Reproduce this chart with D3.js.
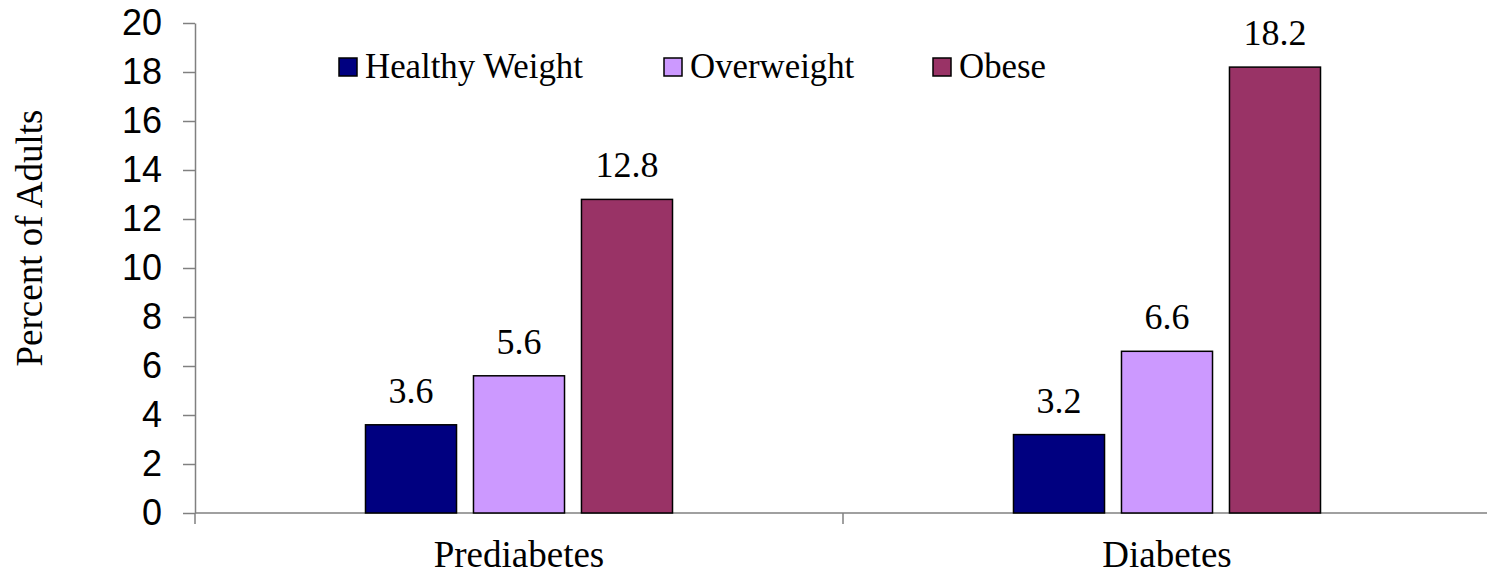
<!DOCTYPE html>
<html>
<head>
<meta charset="utf-8">
<script src="https://cdn.jsdelivr.net/npm/d3@7/dist/d3.min.js"></script>
<style>
  html, body { margin: 0; padding: 0; background: #fff; }
  svg { display: block; }
</style>
</head>
<body>
<svg id="chart" width="1487" height="576"></svg>
<script>
const categories = ["Prediabetes", "Diabetes"];
const series = ["Healthy Weight", "Overweight", "Obese"];
const healthyWeight = [3.6, 3.2];
const overweight = [5.6, 6.6];
const obese = [12.8, 18.2];
const yTicks = [0, 2, 4, 6, 8, 10, 12, 14, 16, 18, 20];
const colors = ["#000080", "#CC99FF", "#993366"];
const yTitle = "Percent of Adults";

(function () {
const values = [healthyWeight, overweight, obese];
const svg = d3.select("#chart");
const serif = "'Liberation Serif', 'Times New Roman', serif";
const sans = "'Liberation Sans', Arial, sans-serif";

const plotLeft = 195, plotRight = 1491, plotTop = 23, plotBottom = 513;
const x0 = d3.scaleBand().domain(categories).range([plotLeft, plotRight]).padding(0);
const bw = x0.bandwidth();
const x1 = d3.scaleBand().domain(series).range([bw * 0.2631, bw * 0.7369]).paddingInner(0.157).paddingOuter(0);
const y = d3.scaleLinear().domain([0, 20]).range([plotBottom, plotTop]);

// Y axis
const yAxis = svg.append("g")
  .attr("transform", `translate(${plotLeft},0)`)
  .call(d3.axisLeft(y).tickValues(yTicks).tickSize(12).tickPadding(21).tickSizeOuter(0));
yAxis.select(".domain").attr("stroke", "#808080").attr("stroke-width", 1.5);
yAxis.selectAll(".tick line").attr("stroke", "#808080").attr("stroke-width", 1.5);
yAxis.selectAll(".tick text").attr("font-family", sans).attr("font-size", 36).attr("fill", "#000");

// X axis line and ticks at band boundaries
const xg = svg.append("g");
xg.append("line").attr("x1", plotLeft).attr("x2", plotRight).attr("y1", y(0)).attr("y2", y(0))
  .attr("stroke", "#808080").attr("stroke-width", 1.5);
const boundaries = categories.map(c => x0(c)).concat([x0(categories[categories.length - 1]) + bw]);
xg.selectAll("line.xt").data(boundaries).enter().append("line")
  .attr("class", "xt")
  .attr("x1", d => d).attr("x2", d => d)
  .attr("y1", y(0)).attr("y2", y(0) + 11)
  .attr("stroke", "#808080").attr("stroke-width", 1.5);
xg.selectAll("text").data(categories).enter().append("text")
  .attr("x", d => x0(d) + bw / 2)
  .attr("y", 567)
  .attr("text-anchor", "middle")
  .attr("font-family", serif).attr("font-size", 37)
  .text(d => d);

// Bars
const groups = svg.append("g").selectAll("g").data(categories).enter().append("g")
  .attr("transform", d => `translate(${x0(d)},0)`);
groups.each(function(cat, ci) {
  const g = d3.select(this);
  series.forEach((s, si) => {
    const v = values[si][ci];
    g.append("rect")
      .attr("x", x1(s))
      .attr("y", y(v))
      .attr("width", x1.bandwidth())
      .attr("height", y(0) - y(v))
      .attr("fill", colors[si])
      .attr("stroke", "#000")
      .attr("stroke-width", 1.5);
    g.append("text")
      .attr("x", x1(s) + x1.bandwidth() / 2)
      .attr("y", y(v) - 22)
      .attr("text-anchor", "middle")
      .attr("font-family", serif).attr("font-size", 36)
      .text(v.toFixed(1));
  });
});

// Y title
svg.append("text")
  .attr("transform", `translate(42,238) rotate(-90)`)
  .attr("text-anchor", "middle")
  .attr("font-family", serif).attr("font-size", 37)
  .text(yTitle);

// Legend
const legendX = [339, 664, 933];
const legend = svg.append("g");
series.forEach((s, i) => {
  const lx = legendX[i];
  legend.append("rect")
    .attr("x", lx).attr("y", 58).attr("width", 18).attr("height", 18)
    .attr("fill", colors[i]).attr("stroke", "#000").attr("stroke-width", 1.5);
  legend.append("text")
    .attr("x", lx + 26).attr("y", 78)
    .attr("font-family", serif).attr("font-size", 34.8)
    .text(s);
});
})();
</script>
</body>
</html>
